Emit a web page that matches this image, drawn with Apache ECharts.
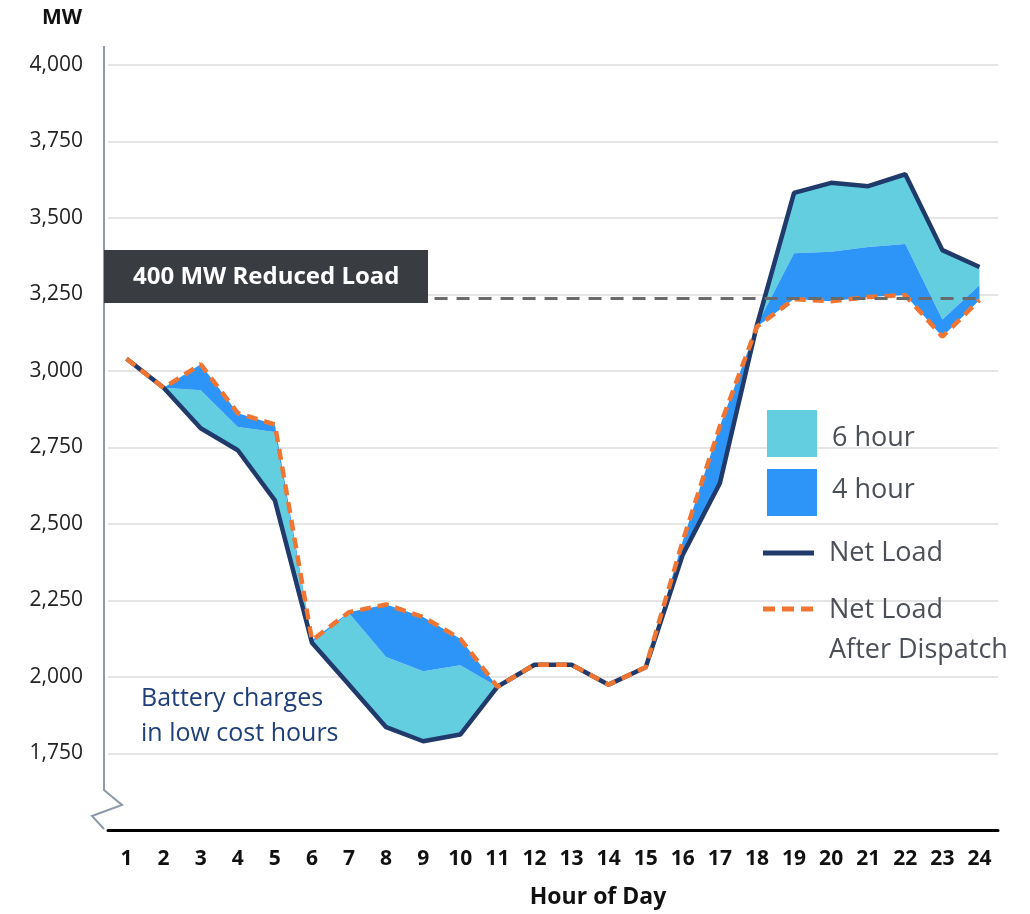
<!DOCTYPE html>
<html>
<head>
<meta charset="utf-8">
<script src="https://cdn.jsdelivr.net/npm/echarts@6/dist/echarts.min.js"></script>
<style>
  html, body { margin: 0; padding: 0; background: #fff; }
  #chart { width: 1030px; height: 914px; }
</style>
</head>
<body>
<div id="chart"></div>
<script>
// hours of the day
const hours = ['1','2','3','4','5','6','7','8','9','10','11','12','13','14','15','16','17','18','19','20','21','22','23','24'];

// net load before storage (MW)
const netLoad = [3040, 2945, 2813, 2741, 2577, 2112, 1975, 1836, 1790, 1812, 1968, 2040,
                 2040, 1975, 2032, 2400, 2633, 3150, 3582, 3615, 3604, 3643, 3395, 3340];

// boundary between the 6 hour and 4 hour bands
const fourHourEdge = [3040, 2945, 2937, 2817, 2801, 2113, 2208, 2065, 2019, 2038, 1968, 2040,
                      2040, 1975, 2032, 2400, 2633, 3150, 3385, 3390, 3405, 3415, 3168, 3280];

// net load after dispatch (MW)
const afterDispatch = [3040, 2945, 3022, 2862, 2825, 2120, 2212, 2237, 2196, 2125, 1968, 2040,
                       2040, 1975, 2032, 2445, 2820, 3145, 3235, 3228, 3242, 3248, 3112, 3232];

// reduced load target line
const reducedLevel = 3238;

const FONT = '"Open Sans", "DejaVu Sans", sans-serif';
const CYAN = '#63cedf';
const BLUE = '#2e95f8';
const NAVY = '#1f3a6b';
const ORANGE = '#f07532';

// band thicknesses for the stacked areas
const sixBand = netLoad.map((v, i) => fourHourEdge[i] - v);
const fourBand = fourHourEdge.map((v, i) => afterDispatch[i] - v);

const myChart = echarts.init(document.getElementById('chart'));

const legendText = { fontFamily: FONT, fontSize: 27, fill: '#4b5058' };

const option = {
  animation: false,
  textStyle: { fontFamily: FONT },
  title: {
    text: 'MW',
    left: 37,
    top: 3,
    textStyle: { fontFamily: FONT, fontSize: 21, fontWeight: 'bold', color: '#111' }
  },
  grid: { left: 108, right: 32, top: 65, bottom: 84 },
  xAxis: {
    type: 'category',
    data: hours,
    boundaryGap: true,
    axisLine: { lineStyle: { color: '#000', width: 3 } },
    axisTick: { show: false },
    axisLabel: { fontFamily: FONT, fontSize: 21, fontWeight: 'bold', color: '#111', margin: 19 },
    name: 'Hour of Day',
    nameLocation: 'middle',
    nameGap: 56,
    nameTextStyle: { fontFamily: FONT, fontSize: 23, fontWeight: 'bold', color: '#111', padding: [0, 0, 0, 90] }
  },
  yAxis: {
    type: 'value',
    min: 1500,
    max: 4000,
    interval: 250,
    axisLine: { show: false },
    axisTick: { show: false },
    axisLabel: {
      fontFamily: FONT,
      fontSize: 21,
      color: '#222',
      margin: 25,
      formatter: (v) => (v === 1500 ? '' : v.toLocaleString('en-US'))
    },
    splitLine: { lineStyle: { color: '#dcdcdc', width: 1.5 } }
  },
  series: [
    {
      name: 'base',
      type: 'line',
      data: netLoad,
      stack: 'band',
      stackStrategy: 'all',
      symbol: 'none',
      silent: true,
      lineStyle: { opacity: 0 }
    },
    {
      name: '6 hour',
      type: 'line',
      data: sixBand,
      stack: 'band',
      stackStrategy: 'all',
      symbol: 'none',
      silent: true,
      lineStyle: { opacity: 0 },
      areaStyle: { color: CYAN, opacity: 1 }
    },
    {
      name: '4 hour',
      type: 'line',
      data: fourBand,
      stack: 'band',
      stackStrategy: 'all',
      symbol: 'none',
      silent: true,
      lineStyle: { opacity: 0 },
      areaStyle: { color: BLUE, opacity: 1 }
    },
    {
      name: 'Net Load',
      type: 'line',
      data: netLoad,
      symbol: 'none',
      z: 3,
      lineStyle: { color: NAVY, width: 4.5 }
    },
    {
      name: 'Net Load After Dispatch',
      type: 'line',
      data: afterDispatch,
      symbol: 'none',
      z: 4,
      lineStyle: { color: ORANGE, width: 4.5, type: [11, 7] },
      markLine: {
        silent: true,
        symbol: 'none',
        label: { show: false },
        lineStyle: { color: '#6a6a6a', width: 3, type: [13, 9] },
        data: [[{ coord: ['1', reducedLevel] }, { coord: ['24', reducedLevel] }]]
      }
    }
  ],
  graphic: [
    // y axis with break
    {
      type: 'polyline',
      z: 10,
      shape: { points: [[104, 46], [104, 790], [122, 805], [92, 816], [104, 829]] },
      style: { stroke: '#8d99aa', lineWidth: 2, fill: null }
    },
    // reduced load label (covers the left end of the target line)
    { type: 'rect', z: 100, shape: { x: 104, y: 250, width: 324, height: 53 }, style: { fill: '#393c41' } },
    {
      type: 'text', z: 101, x: 133, y: 277,
      style: { text: '400 MW Reduced Load', fontFamily: FONT, fontSize: 24, fontWeight: 'bold', fill: '#fff', verticalAlign: 'middle' }
    },
    // annotation
    {
      type: 'text', x: 141, y: 681, z: 20,
      style: { text: 'Battery charges\nin low cost hours', fontFamily: FONT, fontSize: 25, lineHeight: 35, fill: '#1f3f78' }
    },
    // legend
    { type: 'rect', z: 20, shape: { x: 767, y: 410, width: 50, height: 47 }, style: { fill: CYAN } },
    { type: 'rect', z: 20, shape: { x: 767, y: 469, width: 50, height: 47 }, style: { fill: BLUE } },
    { type: 'text', z: 20, x: 832, y: 438, style: Object.assign({ text: '6 hour', verticalAlign: 'middle' }, legendText) },
    { type: 'text', z: 20, x: 832, y: 490, style: Object.assign({ text: '4 hour', verticalAlign: 'middle' }, legendText) },
    { type: 'line', z: 20, shape: { x1: 763, y1: 553, x2: 814, y2: 553 }, style: { stroke: NAVY, lineWidth: 5 } },
    { type: 'text', z: 20, x: 829, y: 553, style: Object.assign({ text: 'Net Load', verticalAlign: 'middle' }, legendText) },
    { type: 'line', z: 20, shape: { x1: 763, y1: 609, x2: 814, y2: 609 }, style: { stroke: ORANGE, lineWidth: 5, lineDash: [12, 7] } },
    { type: 'text', z: 20, x: 829, y: 610, style: Object.assign({ text: 'Net Load', verticalAlign: 'middle' }, legendText) },
    { type: 'text', z: 20, x: 829, y: 650, style: Object.assign({ text: 'After Dispatch', verticalAlign: 'middle' }, legendText) }
  ]
};

myChart.setOption(option);
</script>
</body>
</html>
